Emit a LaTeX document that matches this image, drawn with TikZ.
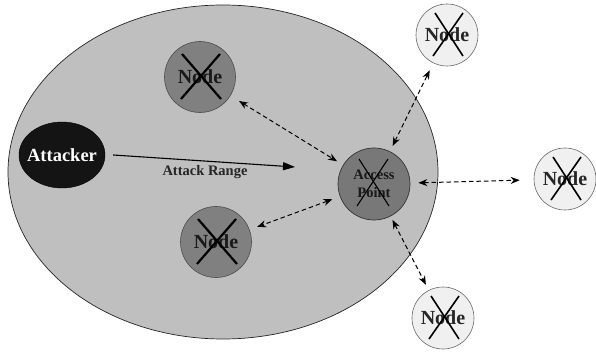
\documentclass[tikz,border=0pt]{standalone}
\usepackage{fontspec}
\setmainfont{Liberation Serif}
\usetikzlibrary{arrows.meta,calc,shapes.geometric}
\definecolor{rangefill}{gray}{0.75}
\definecolor{innerfill}{gray}{0.50}
\definecolor{outerfill}{gray}{0.94}
\definecolor{apfill}{gray}{0.47}
\tikzset{
  rangezone/.style={draw=black!85,line width=0.7pt,fill=rangefill},
  inode/.style={circle,draw=black!70,line width=0.6pt,fill=innerfill,minimum size=71pt,inner sep=0pt,font=\bfseries\fontsize{20}{20}\selectfont,text=black!90},
  onode/.style={circle,draw=black!60,line width=0.6pt,fill=outerfill,minimum size=62pt,inner sep=0pt,font=\bfseries\fontsize{20}{20}\selectfont,text=black!85},
  apnode/.style={circle,draw=black!80,line width=0.7pt,fill=apfill,minimum size=72pt,inner sep=0pt,align=center,font=\bfseries\fontsize{14.5}{17.5}\selectfont,text=black!90},
  attnode/.style={ellipse,draw=black,fill=black!92,minimum width=86pt,minimum height=66pt,inner xsep=-5pt,inner ysep=0pt,text=white,font=\bfseries\fontsize{18.5}{18.5}\selectfont},
  xmark/.style={line width=2.2pt,black},
  xthin/.style={line width=1.1pt,black},
  link/.style={dash pattern=on 4.5pt off 3pt,line width=1pt,{Stealth[length=9pt,width=7pt]}-{Stealth[length=9pt,width=7pt]}},
  attackarrow/.style={line width=1.1pt,-{Triangle[length=12pt,width=8pt]}},
}
\begin{document}
\begin{tikzpicture}[x=1pt,y=-1pt]
\useasboundingbox (0,0) rectangle (596,352);
% coverage area of the access point
\path[rangezone] (223,172) ellipse [x radius=215, y radius=167];

% attacker
\node[attnode] (att) at (62,155) {Attacker};

% nodes inside the range
\node[inode] (n1) at (200,77) {Node};
\node[inode] (n2) at (216,242) {Node};
\node[apnode] (ap) at (374,184) {Access\\Point};

% nodes outside the range
\node[onode] (n3) at (447,35) {Node};
\node[onode] (n4) at (565,179) {Node};
\node[onode] (n5) at (443,318) {Node};

% crosses over every node
\foreach \n in {n1,n2}{
  \draw[xmark] ($(\n)+(-18,-23)$) -- ($(\n)+(21,22)$);
  \draw[xmark] ($(\n)+(20,-23)$) -- ($(\n)+(-19,22)$);
}
\foreach \n in {n3,n4,n5}{
  \draw[xthin,line width=1.6pt] ($(\n)+(-12,-22)$) -- ($(\n)+(16,21)$);
  \draw[xthin,line width=1.6pt] ($(\n)+(16,-22)$) -- ($(\n)+(-14,21)$);
}
\draw[xthin] ($(ap)+(-15,-25)$) -- ($(ap)+(15,22)$);
\draw[xthin] ($(ap)+(14,-25)$) -- ($(ap)+(-17,22)$);

% attack range arrow
\coordinate (attstart) at ($(att.east)+(8,0)$);
\coordinate (hit) at (295,167);
\draw[attackarrow] (attstart) -- (hit);
\node[font=\bfseries\fontsize{14.5}{14.5}\selectfont,text=black!85] (lbl) at (205,172) {Attack Range};

% links between the access point and the nodes
\draw[link,shorten <=10pt,shorten >=7pt] (n1) -- (ap);
\draw[link,shorten <=8pt,shorten >=8pt] (ap) -- (n2);
\draw[link,shorten <=6pt,shorten >=8pt] (ap) -- (n3);
\draw[link,shorten <=8pt,shorten >=14pt] (ap) -- (n4);
\draw[link,shorten <=4pt,shorten >=6pt] (ap) -- (n5);
\end{tikzpicture}
\end{document}
